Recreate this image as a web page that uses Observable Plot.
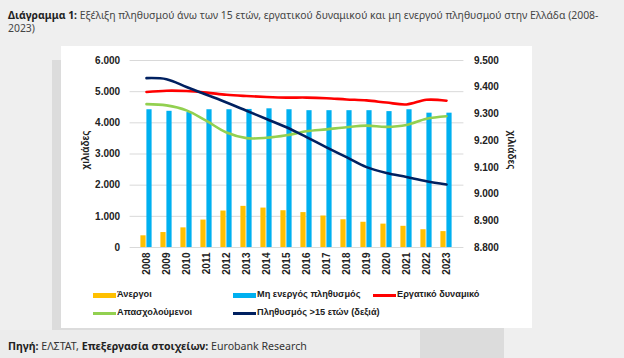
<!DOCTYPE html>
<html>
<head>
<meta charset="utf-8">
<script src="https://cdn.jsdelivr.net/npm/d3@7"></script>
<script src="https://cdn.jsdelivr.net/npm/@observablehq/plot@0.6"></script>
<style>
  html, body { margin: 0; padding: 0; }
  body { width: 624px; height: 358px; background: #efefef; position: relative; overflow: hidden; font-family: "Noto Sans", "DejaVu Sans", sans-serif; }
  #title { position: absolute; left: 8px; top: 9px; font-size: 10.4px; line-height: 12.6px; color: #444; white-space: nowrap; }
  #title b { color: #222; }
  #shadow { position: absolute; left: 52px; top: 60px; width: 452px; height: 298px; background: #dcdcdc; }
  #box { position: absolute; left: 61px; top: 46px; width: 471px; height: 282px; background: #fff; }
  #caption { position: absolute; left: 0; top: 330px; width: 420px; height: 28px; background: #ececec; }
  #caption span { position: absolute; left: 8px; top: 9px; font-size: 10.6px; color: #333; white-space: nowrap; }
  #caption b { color: #222; }
  .ylab { position: absolute; font-family: "Liberation Sans", Arial, sans-serif; font-weight: bold; font-size: 10px; color: #222; white-space: nowrap; }
  .leg { position: absolute; font-family: "Liberation Sans", Arial, sans-serif; font-weight: bold; font-size: 9.2px; color: #222; white-space: nowrap; }
  .leg i { position: absolute; left: -24px; width: 23px; }
</style>
</head>
<body>
<div id="title"><b>Διάγραμμα 1:</b> Εξέλιξη πληθυσμού άνω των 15 ετών, εργατικού δυναμικού και μη ενεργού πληθυσμού στην Ελλάδα (2008-<br>2023)</div>
<div id="shadow"></div>
<div id="caption"><span><b>Πηγή:</b> ΕΛΣΤΑΤ, <b>Επεξεργασία στοιχείων:</b> Eurobank Research</span></div>
<div id="box"></div>
<script>
// ---- data (thousands) ----
const years = ["2008","2009","2010","2011","2012","2013","2014","2015","2016","2017","2018","2019","2020","2021","2022","2023"];
const unemployed = [375, 480, 630, 880, 1170, 1320, 1265, 1180, 1120, 1010, 890, 810, 750, 680, 570, 510];
const inactive = [4420, 4370, 4330, 4420, 4420, 4430, 4450, 4420, 4390, 4390, 4390, 4390, 4360, 4420, 4310, 4310];
const labourForce = [4990, 5030, 5020, 4970, 4900, 4860, 4830, 4810, 4810, 4790, 4750, 4720, 4650, 4590, 4740, 4710];
const employed = [4600, 4560, 4400, 4060, 3690, 3510, 3520, 3600, 3730, 3790, 3860, 3910, 3870, 3930, 4130, 4210];
const population15 = [9434, 9430, 9401, 9372, 9343, 9312, 9281, 9250, 9213, 9175, 9138, 9101, 9079, 9064, 9048, 9036];

const leftTicks = [0, 1000, 2000, 3000, 4000, 5000, 6000];
const rightTicks = [8800, 8900, 9000, 9100, 9200, 9300, 9400, 9500];

const legendItems = [
  {label: "Άνεργοι", color: "#FFC000", kind: "bar"},
  {label: "Μη ενεργός πληθυσμός", color: "#00B0F0", kind: "bar"},
  {label: "Εργατικό δυναμικό", color: "#FF0000", kind: "line"},
  {label: "Απασχολούμενοι", color: "#92D050", kind: "line"},
  {label: "Πληθυσμός >15 ετών (δεξιά)", color: "#002060", kind: "line"}
];

// right axis domain mapped onto left axis domain
const rightDomain = [8800, 9500], leftDomain = [0, 6000];
const toLeft = v => (v - rightDomain[0]) / (rightDomain[1] - rightDomain[0]) * (leftDomain[1] - leftDomain[0]) + leftDomain[0];
const toRight = v => (v - leftDomain[0]) / (leftDomain[1] - leftDomain[0]) * (rightDomain[1] - rightDomain[0]) + rightDomain[0];

const rows = years.map((y, i) => ({
  year: y,
  unemployed: unemployed[i],
  inactive: inactive[i],
  labour: labourForce[i],
  employed: employed[i],
  pop: toLeft(population15[i])
}));

const fmt = d => d3.format(",")(Math.round(d)).replace(/,/g, ".");

const chart = Plot.plot({
  width: 471,
  height: 236,
  marginLeft: 68.6,
  marginRight: 68.6,
  marginTop: 14,
  marginBottom: 35,
  style: {fontFamily: "'Liberation Sans', Arial, sans-serif", fontSize: "10px", fontWeight: "bold", color: "#222", background: "white", overflow: "visible"},
  x: {type: "band", domain: years, padding: 0, label: null},
  y: {domain: leftDomain, label: null},
  marks: [
    Plot.gridY(leftTicks, {stroke: "#d9d9d9", strokeOpacity: 1, strokeWidth: 1}),
    Plot.barY(rows, {x: "year", y: "unemployed", fill: "#FFC000", insetLeft: 4.4, insetRight: 10.4}),
    Plot.barY(rows, {x: "year", y: "inactive", fill: "#00B0F0", insetLeft: 10.4, insetRight: 4.4}),
    Plot.lineY(rows, {x: "year", y: "labour", stroke: "#FF0000", strokeWidth: 2.6, curve: "catmull-rom"}),
    Plot.lineY(rows, {x: "year", y: "employed", stroke: "#92D050", strokeWidth: 2.6, curve: "catmull-rom"}),
    Plot.lineY(rows, {x: "year", y: "pop", stroke: "#002060", strokeWidth: 2.6, curve: "catmull-rom"}),
    Plot.axisY(leftTicks, {anchor: "left", tickSize: 0, tickPadding: 10, tickFormat: fmt, label: null}),
    Plot.axisY(rightTicks.map(toLeft), {anchor: "right", tickSize: 0, tickPadding: 10, tickFormat: d => fmt(toRight(d)), label: null}),
    Plot.axisX({tickRotate: -90, tickSize: 0, tickPadding: 5, label: null})
  ]
});

const box = document.getElementById("box");
chart.style.position = "absolute";
chart.style.left = "0px";
chart.style.top = "0px";
box.appendChild(chart);

// axis titles
const yl = document.createElement("div");
yl.className = "ylab";
yl.textContent = "χιλιάδες";
yl.style.left = "24px"; yl.style.top = "104px";
yl.style.transform = "translate(-50%,-50%) rotate(-90deg)";
box.appendChild(yl);
const yr = document.createElement("div");
yr.className = "ylab";
yr.textContent = "χιλιάδες";
yr.style.left = "450px"; yr.style.top = "104px";
yr.style.transform = "translate(-50%,-50%) rotate(90deg)";
box.appendChild(yr);

// legend
const legPos = [[56, 243], [196, 243], [336, 243], [56, 261], [196, 261]];
legendItems.forEach((item, i) => {
  const d = document.createElement("div");
  d.className = "leg";
  d.style.left = legPos[i][0] + "px";
  d.style.top = legPos[i][1] + "px";
  const sw = document.createElement("i");
  sw.style.background = item.color;
  if (item.kind === "bar") { sw.style.height = "5px"; sw.style.top = "4px"; }
  else { sw.style.height = "3px"; sw.style.top = "5px"; }
  d.appendChild(sw);
  d.appendChild(document.createTextNode(item.label));
  box.appendChild(d);
});
</script>
</body>
</html>
